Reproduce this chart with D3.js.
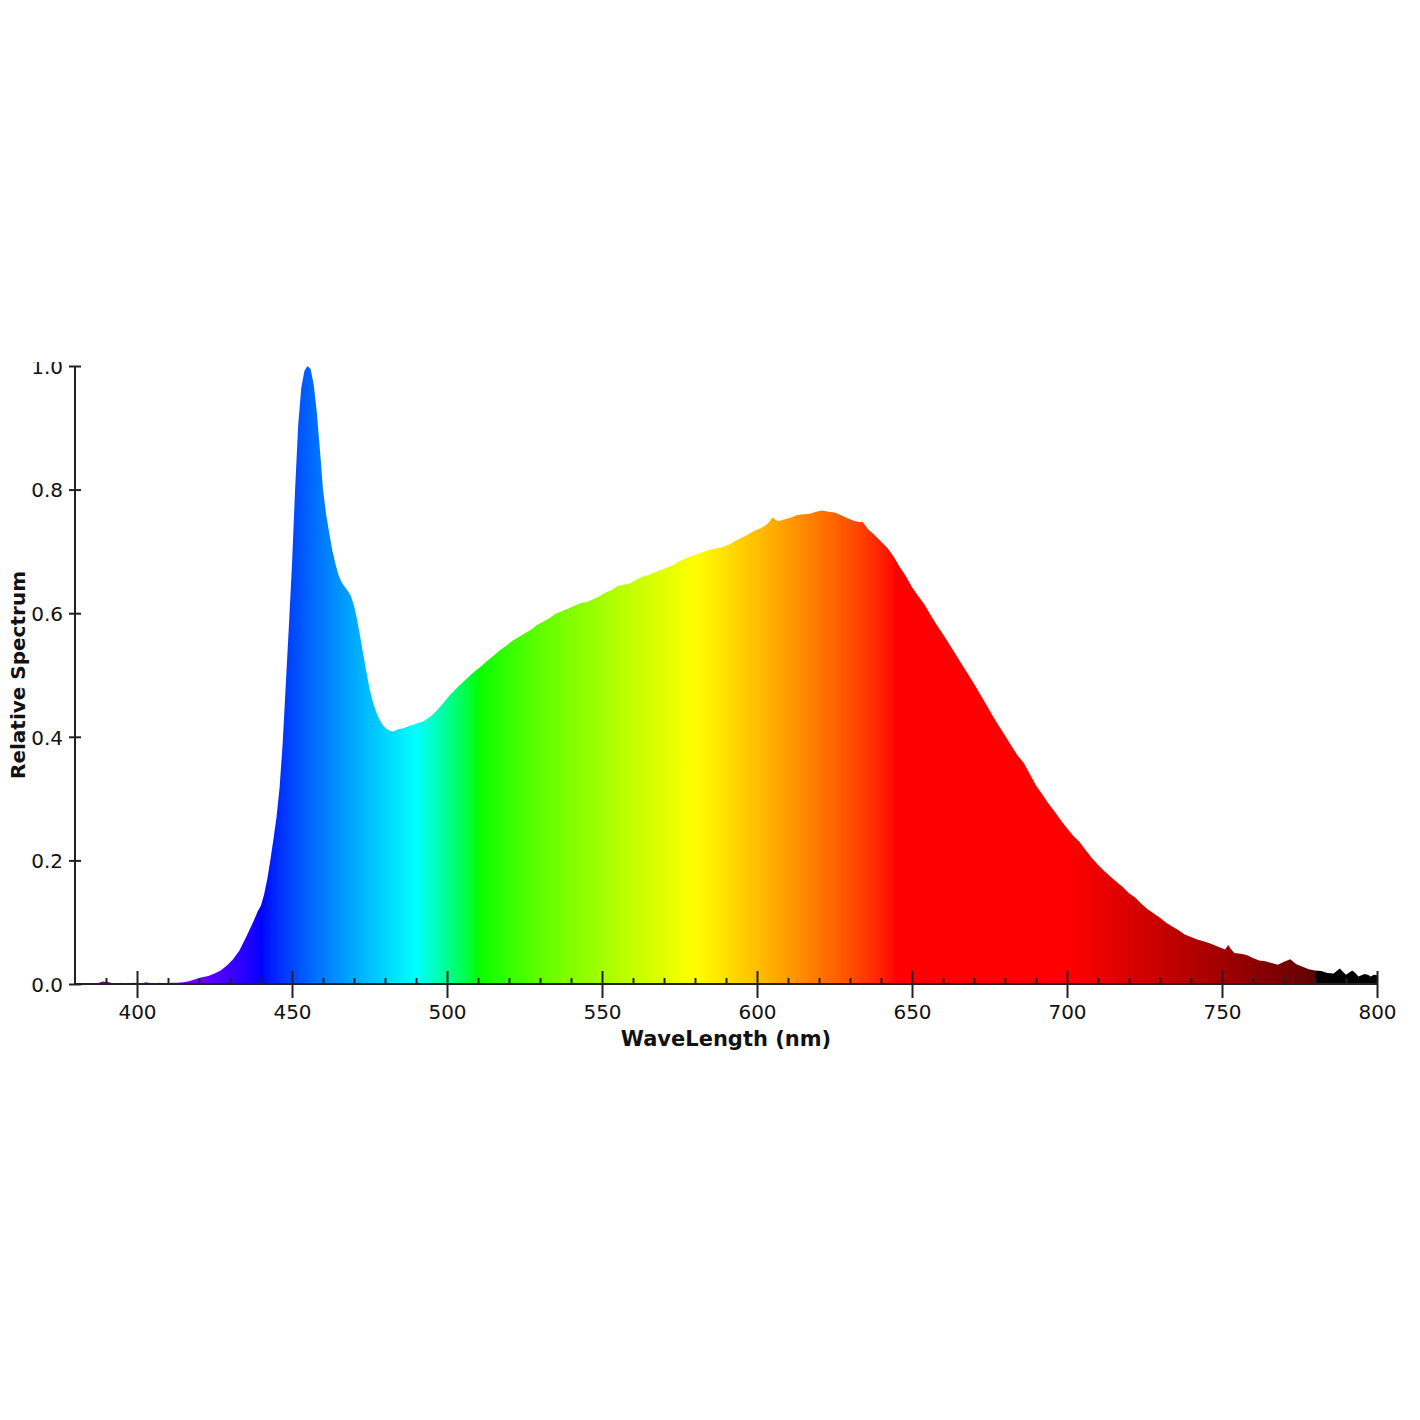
<!DOCTYPE html>
<html>
<head>
<meta charset="utf-8">
<script src="https://cdn.jsdelivr.net/npm/d3@7"></script>
<style>
  html, body { margin: 0; padding: 0; background: #fff; }
  svg { display: block; }
  text { font-family: "DejaVu Sans", sans-serif; fill: #111; }
</style>
</head>
<body>
<svg id="chart" width="1420" height="1420"></svg>
<script>
// ---- data ----
const wavelengths = [380,385,387,389,391,393,395,397,399,401,403,405,407,409,411,413,415,417,419,421,423,425,427,429,431,433,435,437,439,440,441,442,443,444,445,446,447,448,449,450,451,452,453,454,455,456,457,458,459,460,461,462,463,464,465,466,467,468,469,470,471,472,473,474,475,476,477,478,479,480,481,482,483,484,485,486,487,488,489,490,491,492,493,494,495,496,497,498,499,500,501,502,503,505,507,509,511,513,515,517,519,521,523,525,527,529,531,533,535,537,539,541,543,545,547,549,551,553,555,557,559,561,563,565,567,569,571,573,575,577,579,581,583,585,587,589,591,593,595,597,599,601,603,604,605,606,607,609,611,613,615,617,619,621,623,625,627,629,631,633,634,636,638,640,642,644,646,648,650,652,654,656,658,660,662,664,666,668,670,672,674,676,678,680,682,684,686,688,690,692,694,696,698,700,702,704,706,708,710,712,714,716,718,720,722,724,726,728,730,732,734,736,738,740,742,744,746,748,750,751,752,753,754,756,758,760,762,764,766,768,770,772,774,776,778,780,782,784,786,788,789,790,792,793,794,796,797,798,799,800];
const spectrum = [0,0,0.001,0.004,0.003,0.000,0.002,0.000,0.002,0.001,0.003,0.001,0.002,0.001,0.002,0.002,0.003,0.005,0.008,0.011,0.013,0.017,0.022,0.030,0.040,0.054,0.074,0.095,0.118,0.127,0.145,0.169,0.200,0.234,0.270,0.318,0.390,0.485,0.580,0.679,0.800,0.905,0.965,0.992,1.000,0.995,0.970,0.925,0.865,0.800,0.760,0.730,0.702,0.680,0.662,0.650,0.643,0.636,0.628,0.612,0.590,0.562,0.533,0.505,0.478,0.458,0.442,0.430,0.421,0.415,0.411,0.409,0.409,0.412,0.413,0.414,0.416,0.418,0.419,0.421,0.423,0.424,0.427,0.431,0.434,0.439,0.444,0.450,0.456,0.462,0.468,0.473,0.478,0.488,0.497,0.506,0.514,0.523,0.531,0.540,0.547,0.555,0.561,0.567,0.573,0.581,0.586,0.592,0.599,0.603,0.607,0.612,0.616,0.618,0.622,0.627,0.633,0.637,0.644,0.646,0.648,0.654,0.659,0.662,0.666,0.670,0.674,0.678,0.684,0.689,0.693,0.696,0.700,0.703,0.705,0.707,0.711,0.717,0.722,0.727,0.733,0.737,0.743,0.748,0.755,0.751,0.749,0.752,0.755,0.759,0.760,0.761,0.764,0.766,0.764,0.763,0.759,0.754,0.750,0.747,0.748,0.735,0.726,0.716,0.706,0.692,0.675,0.660,0.642,0.628,0.614,0.597,0.581,0.566,0.550,0.534,0.518,0.502,0.486,0.469,0.452,0.434,0.418,0.402,0.386,0.370,0.358,0.340,0.321,0.307,0.292,0.279,0.265,0.252,0.240,0.230,0.217,0.204,0.193,0.183,0.174,0.165,0.157,0.147,0.140,0.130,0.121,0.114,0.107,0.099,0.093,0.087,0.080,0.076,0.072,0.069,0.066,0.062,0.058,0.056,0.063,0.056,0.050,0.049,0.047,0.042,0.038,0.037,0.034,0.031,0.036,0.040,0.032,0.028,0.024,0.022,0.021,0.018,0.017,0.025,0.020,0.015,0.022,0.018,0.012,0.016,0.015,0.012,0.015,0.014];
const xTicks = [400,450,500,550,600,650,700,750,800];
const xMinorTicks = [390,410,420,430,440,460,470,480,490,510,520,530,540,560,570,580,590,610,620,630,640,660,670,680,690,710,720,730,740,760,770,780,790];
const yTicks = [0,0.2,0.4,0.6,0.8,1.0];
const xTitle = "WaveLength (nm)";
const yTitle = "Relative Spectrum";

// ---- wavelength to RGB (Bruton) ----
function waveColor(w) {
  let r = 0, g = 0, b = 0;
  if (w >= 380 && w < 440) { r = -(w - 440) / 60; b = 1; }
  else if (w < 490) { g = (w - 440) / 50; b = 1; }
  else if (w < 510) { g = 1; b = -(w - 510) / 20; }
  else if (w < 580) { r = (w - 510) / 70; g = 1; }
  else if (w < 645) { r = 1; g = -(w - 645) / 65; }
  else if (w <= 780) { r = 1; }
  let f = 0;
  if (w >= 380 && w < 420) f = 0.3 + 0.7 * (w - 380) / 40;
  else if (w < 701) f = 1;
  else if (w < 780) f = 0.3 + 0.7 * (780 - w) / 80;
  const gam = 0.8;
  const c = v => Math.round(255 * (v === 0 ? 0 : Math.pow(v * f, gam)));
  return d3.rgb(c(r), c(g), c(b)).formatHex();
}

const data = wavelengths.map((w, i) => ({ w, v: spectrum[i] }));
const svg = d3.select("#chart");
const x = d3.scaleLinear().domain([380, 800]).range([75, 1377]);
const y = d3.scaleLinear().domain([0, 1]).range([984, 366]);

const defs = svg.append("defs");
const grad = defs.append("linearGradient").attr("id", "spec")
  .attr("gradientUnits", "userSpaceOnUse")
  .attr("x1", x(380)).attr("x2", x(800)).attr("y1", 0).attr("y2", 0);
const stopsW = d3.range(380, 801, 1);
stopsW.forEach(w => {
  const off = (w - 380) / 420;
  grad.append("stop").attr("offset", off).attr("stop-color", waveColor(w - 0.001 < 380 ? 380 : w - 0.001));
  grad.append("stop").attr("offset", off).attr("stop-color", waveColor(w));
});

defs.append("clipPath").attr("id", "yclip").append("rect")
  .attr("x", -80).attr("y", 362).attr("width", 100).attr("height", 700);

const area = d3.area().x(d => x(d.w)).y0(y(0)).y1(d => y(d.v));
svg.append("path").datum(data).attr("d", area).attr("fill", "url(#spec)");

// x axis major
const gx = svg.append("g").attr("transform", `translate(0,${y(0)})`)
  .call(d3.axisBottom(x).tickValues(xTicks).tickSize(14).tickSizeOuter(0).tickFormat(d3.format("d")));
gx.select(".domain").attr("stroke", "#222").attr("stroke-width", 2).attr("d", `M${x(380)},0H${x(800)}`);
gx.selectAll(".tick line").attr("stroke", "#222").attr("stroke-width", 2).attr("y1", -13).attr("y2", 14);
gx.selectAll(".tick text").attr("y", 35).attr("dy", 0).attr("font-size", 20)
  .attr("font-family", "DejaVu Sans").attr("fill", "#111");

// x axis minor
const gxm = svg.append("g").attr("transform", `translate(0,${y(0)})`)
  .call(d3.axisBottom(x).tickValues(xMinorTicks).tickSize(-6).tickFormat(""));
gxm.select(".domain").remove();
gxm.selectAll(".tick line").attr("stroke", "#222").attr("stroke-width", 2);

// y axis
const gy = svg.append("g").attr("transform", `translate(${x(380)},0)`).attr("clip-path", "url(#yclip)")
  .call(d3.axisLeft(y).tickValues(yTicks).tickSize(6).tickSizeOuter(0).tickFormat(d3.format(".1f")));
gy.select(".domain").attr("stroke", "#222").attr("stroke-width", 2).attr("d", `M0,${y(0)}V${y(1)}`);
gy.selectAll(".tick line").attr("stroke", "#222").attr("stroke-width", 2).attr("x1", 6).attr("x2", -6);
gy.selectAll(".tick text").attr("x", -12).attr("dy", "0.36em").attr("font-size", 20)
  .attr("font-family", "DejaVu Sans").attr("fill", "#111");

// titles
svg.append("text").attr("x", 726).attr("y", 1046).attr("text-anchor", "middle")
  .attr("font-size", 21).attr("font-weight", "bold").text(xTitle);
svg.append("text").attr("transform", `translate(25,${675}) rotate(-90)`).attr("text-anchor", "middle")
  .attr("font-size", 20).attr("font-weight", "bold").text(yTitle);
</script>
</body>
</html>
